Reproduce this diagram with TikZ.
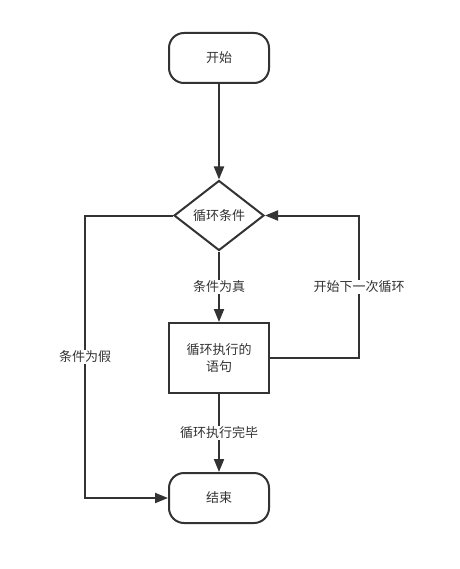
\documentclass[tikz,border=0pt]{standalone}
\usepackage{fontspec}
\setmainfont{Noto Sans CJK SC}
\usetikzlibrary{shapes.geometric,arrows.meta}
\definecolor{ink}{HTML}{333333}
\begin{document}
\begin{tikzpicture}[x=1pt,y=-1pt,
  every node/.style={font=\fontsize{13}{17}\selectfont, text=ink},
  term/.style={draw=ink, line width=2pt, rounded corners=15pt, minimum width=100pt, minimum height=50pt, inner sep=0pt},
  proc/.style={draw=ink, line width=2pt, minimum width=100pt, minimum height=70pt, inner sep=0pt, align=center},
  dec/.style={draw=ink, line width=2pt, diamond, minimum width=90pt, minimum height=70pt, inner sep=0pt, aspect=1.286},
  conn/.style={draw=ink, line width=2pt, -{Triangle[length=13pt,width=10pt]}},
  lab/.style={fill=white, inner sep=1pt}]
\useasboundingbox (0,0) rectangle (459,569);
\node[term] (start) at (219,58) {开始};
\node[dec] (cond) at (219,215.5) {循环条件};
\node[proc] (body) at (219,358) {循环执行的\\语句};
\node[term] (end) at (219,498) {结束};
\coordinate (lt) at (85,215.5);
\coordinate (lb) at (85,498);
\coordinate (rb) at (359,358);
\coordinate (rt) at (359,215.5);
\draw[conn] (start) -- (cond);
\draw[conn] (cond) -- node[lab, pos=0.5] {条件为真} (body);
\draw[conn] (body) -- node[lab, pos=0.5] {循环执行完毕} (end);
\draw[conn] (cond.west) -- (lt) -- node[lab, pos=0.5] {条件为假} (lb) -- (end.west);
\draw[conn] (body.east) -- (rb) -- node[lab, pos=0.5] {开始下一次循环} (rt) -- (cond.east);
\end{tikzpicture}
\end{document}
